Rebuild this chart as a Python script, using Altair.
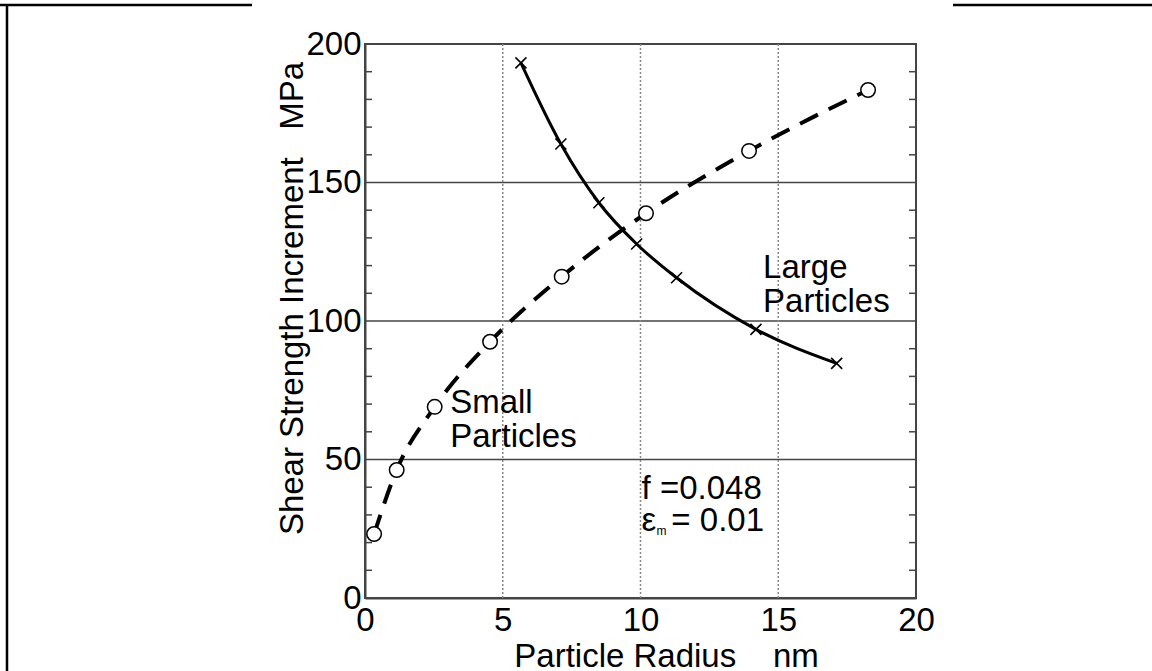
import altair as alt
import pandas as pd

# ---- data ----
small_r = [0.33, 1.15, 2.53, 4.54, 7.14, 10.2, 13.94, 18.26]
small_s = [23.1, 46.2, 69.0, 92.5, 116.0, 138.9, 161.4, 183.4]
large_r = [5.66, 7.11, 8.49, 9.86, 11.31, 14.19, 17.12]
large_s = [193.2, 163.9, 142.7, 127.8, 115.6, 97.0, 84.7]

x_ticks = [0, 5, 10, 15, 20]
y_ticks = [0, 50, 100, 150, 200]
h_grid = [50, 100, 150]
v_grid = [5, 10, 15]
y_minor = [10, 20, 30, 40, 60, 70, 80, 90, 110, 120, 130, 140, 160, 170, 180, 190]

labels_txt = ["Large", "Particles", "Small", "Particles", "f =0.048", "\u03b5", "= 0.01"]
labels_x = [14.45, 14.45, 3.09, 3.09, 10.04, 10.04, 11.12]
labels_y = [115.6, 103.4, 66.8, 54.6, 35.6, 24.2, 24.2]
sub_txt = ["m"]
sub_x = [10.58]
sub_y = [22.9]

FONT = "Liberation Sans"
FS = 33

small = pd.DataFrame({"r": small_r, "s": small_s})
large = pd.DataFrame({"r": large_r, "s": large_s})
hg = pd.DataFrame({"v": h_grid})
vg = pd.DataFrame({"v": v_grid})
mn = pd.DataFrame({"v": y_minor})
lab = pd.DataFrame({"t": labels_txt, "x": labels_x, "y": labels_y})
sub = pd.DataFrame({"t": sub_txt, "x": sub_x, "y": sub_y})

xs = alt.Scale(domain=[0, 20], nice=False, zero=False)
ys = alt.Scale(domain=[0, 200], nice=False, zero=False)

xax = alt.Axis(values=x_ticks, format="d", ticks=False, grid=False, labelFlush=False,
               labelPadding=6, labelFontSize=FS, labelFont=FONT, labelColor="black",
               domainColor="#444", domainWidth=2,
               title="Particle Radius\u00a0\u00a0\u00a0\u00a0nm", titleFontSize=FS,
               titleFont=FONT, titleFontWeight="normal", titleColor="black",
               titleX=301, titleY=68, titleBaseline="alphabetic", titleAlign="center")
yax = alt.Axis(values=y_ticks, format="d", ticks=False, grid=False,
               labelPadding=4, labelFontSize=FS, labelFont=FONT, labelColor="black",
               domainColor="#444", domainWidth=2,
               title="Shear Strength Increment\u00a0\u00a0\u00a0MPa", titleFontSize=FS,
               titleFont=FONT, titleFontWeight="normal", titleColor="black",
               titleAngle=-90, titleX=-63, titleY=254, titleBaseline="alphabetic",
               titleAlign="center")

base_axes = alt.Chart(small).mark_point(opacity=0).encode(
    x=alt.X("r:Q", scale=xs, axis=xax),
    y=alt.Y("s:Q", scale=ys, axis=yax),
)

hgrid = alt.Chart(hg).mark_rule(color="#444", strokeWidth=1.6).encode(
    y=alt.Y("v:Q", scale=ys), x=alt.value(0), x2=alt.value(551))
vgrid = alt.Chart(vg).mark_rule(color="#888", strokeWidth=1.5, strokeDash=[2, 2]).encode(
    x=alt.X("v:Q", scale=xs), y=alt.value(0), y2=alt.value(554))
minor_l = alt.Chart(mn).mark_rule(color="#444", strokeWidth=1.5).encode(
    y=alt.Y("v:Q", scale=ys), x=alt.value(0), x2=alt.value(7))
minor_r = alt.Chart(mn).mark_rule(color="#444", strokeWidth=1.5).encode(
    y=alt.Y("v:Q", scale=ys), x=alt.value(544), x2=alt.value(551))

small_line = alt.Chart(small).mark_line(color="black", strokeWidth=4, strokeDash=[20, 12],
                                        interpolate="monotone").encode(
    x=alt.X("r:Q", scale=xs), y=alt.Y("s:Q", scale=ys))
small_pts = alt.Chart(small).mark_point(shape="circle", size=210, filled=True, fill="white",
                                        stroke="black", strokeWidth=1.5, opacity=1).encode(
    x=alt.X("r:Q", scale=xs), y=alt.Y("s:Q", scale=ys))
large_line = alt.Chart(large).mark_line(color="black", strokeWidth=3,
                                        interpolate="monotone").encode(
    x=alt.X("r:Q", scale=xs), y=alt.Y("s:Q", scale=ys))
large_pts = alt.Chart(large).mark_point(shape="M-1,-1L1,1M-1,1L1,-1", size=121, filled=False,
                                        stroke="black", strokeWidth=1.6, opacity=1).encode(
    x=alt.X("r:Q", scale=xs), y=alt.Y("s:Q", scale=ys))

texts = alt.Chart(lab).mark_text(font=FONT, fontSize=FS, align="left", baseline="alphabetic",
                                 color="black").encode(
    x=alt.X("x:Q", scale=xs), y=alt.Y("y:Q", scale=ys), text="t:N")
subs = alt.Chart(sub).mark_text(font=FONT, fontSize=12, align="left", baseline="alphabetic",
                                color="black").encode(
    x=alt.X("x:Q", scale=xs), y=alt.Y("y:Q", scale=ys), text="t:N")

frame_data = alt.Data(values=[{"a": 1}])
f1 = alt.Chart(frame_data).mark_rule(color="black", strokeWidth=2.5).encode(
    x=alt.value(-365), x2=alt.value(-113), y=alt.value(-39))
f2 = alt.Chart(frame_data).mark_rule(color="black", strokeWidth=2.5).encode(
    x=alt.value(588), x2=alt.value(787), y=alt.value(-39))
f3 = alt.Chart(frame_data).mark_rule(color="black", strokeWidth=2.5).encode(
    x=alt.value(-358), y=alt.value(-40), y2=alt.value(627))

chart = alt.layer(
    base_axes, hgrid, vgrid, minor_l, minor_r,
    small_line, large_line, small_pts, large_pts, texts, subs, f1, f2, f3,
).properties(
    width=551, height=554,
    padding={"left": 365, "top": 44, "right": 236, "bottom": 73},
    autosize=alt.AutoSizeParams(type="none"),
    background="white",
).configure_view(stroke="#444", strokeWidth=2)

chart.save("out.html", embed_options={"renderer": "svg", "actions": False})
